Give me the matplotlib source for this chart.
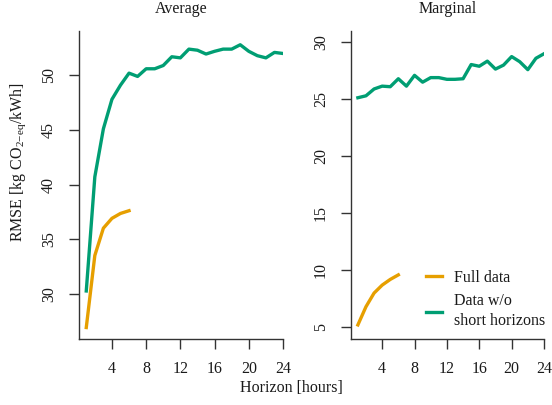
import numpy as np
import matplotlib
matplotlib.use("Agg")
import matplotlib.pyplot as plt

plt.rcParams['font.family'] = ['Liberation Serif', 'DejaVu Serif']
plt.rcParams['mathtext.fontset'] = 'custom'
plt.rcParams['mathtext.rm'] = 'Liberation Serif'
plt.rcParams['mathtext.it'] = 'Liberation Serif:italic'

horizon = np.arange(1, 25)
horizon_short = np.arange(1, 7)

# RMSE, average emission factor
avg_full = [26.9, 33.5, 36.0, 36.9, 37.35, 37.6]
avg_noshort = [30.25, 40.7, 45.1, 47.8, 49.1, 50.2, 49.9, 50.6, 50.6, 50.9,
               51.7, 51.6, 52.4, 52.3, 51.95, 52.2, 52.4, 52.4, 52.8, 52.2,
               51.8, 51.6, 52.1, 52.0]

# RMSE, marginal emission factor
mar_full = [5.15, 6.75, 7.95, 8.65, 9.15, 9.55]
mar_noshort = [25.13, 25.3, 25.9, 26.15, 26.1, 26.8, 26.15, 27.1, 26.5, 26.9,
               26.9, 26.75, 26.75, 26.8, 28.05, 27.9, 28.35, 27.65, 28.0, 28.75,
               28.3, 27.6, 28.6, 29.0]

orange = '#E69F00'
green = '#009E73'
fs = 11.5
txt = '#1a1a1a'

fig = plt.figure(figsize=(5.52, 4.05), dpi=100)
ax1 = fig.add_axes([79/552, 1-339/405, 204/552, 308/405])
ax2 = fig.add_axes([351/552, 1-339/405, 193/552, 308/405])


def style(ax, yticks, ylim):
    ax.set_xlim(0.15, 24)
    ax.set_ylim(*ylim)
    ax.set_xticks([4, 8, 12, 16, 20, 24])
    ax.set_yticks(yticks)
    ax.set_yticklabels([str(t) for t in yticks], rotation=90, va='center')
    for s in ['top', 'right']:
        ax.spines[s].set_visible(False)
    for s in ['left', 'bottom']:
        ax.spines[s].set_linewidth(1.0)
        ax.spines[s].set_color('#333333')
    ax.tick_params(length=7, width=1.0, color='#333333', pad=9,
                   labelsize=fs, labelcolor=txt)


ax1.plot(horizon_short, avg_full, color=orange, lw=2.4, label='Full data')
ax1.plot(horizon, avg_noshort, color=green, lw=2.4, label='Data w/o\nshort horizons')
style(ax1, [30, 35, 40, 45, 50], (25.85, 54.06))
ax1.set_title('Average', fontsize=fs, pad=13, color=txt)

ax2.plot(horizon_short, mar_full, color=orange, lw=2.4, label='Full data')
ax2.plot(horizon, mar_noshort, color=green, lw=2.4, label='Data w/o\nshort horizons')
style(ax2, [5, 10, 15, 20, 25, 30], (3.91, 31.0))
ax2.set_title('Marginal', fontsize=fs, pad=13, color=txt)

leg = ax2.legend(loc='upper left', bbox_to_anchor=(426/552, 1-270/405),
                 bbox_transform=fig.transFigure, frameon=False, fontsize=fs,
                 handlelength=1.0, handletextpad=0.75, labelspacing=0.45,
                 borderpad=0, borderaxespad=0)
for t in leg.get_texts():
    t.set_color(txt)
    t.set_linespacing(1.35)

fig.text(291/552, 1-388/405, 'Horizon [hours]', ha='center', va='center',
         fontsize=fs, color=txt)
fig.text(18/552, 1-162/405, r'RMSE [kg CO$_{2\mathrm{-eq}}$/kWh]', rotation=90,
         ha='center', va='center', fontsize=fs, color=txt)

fig.savefig('out.png', dpi=100)
